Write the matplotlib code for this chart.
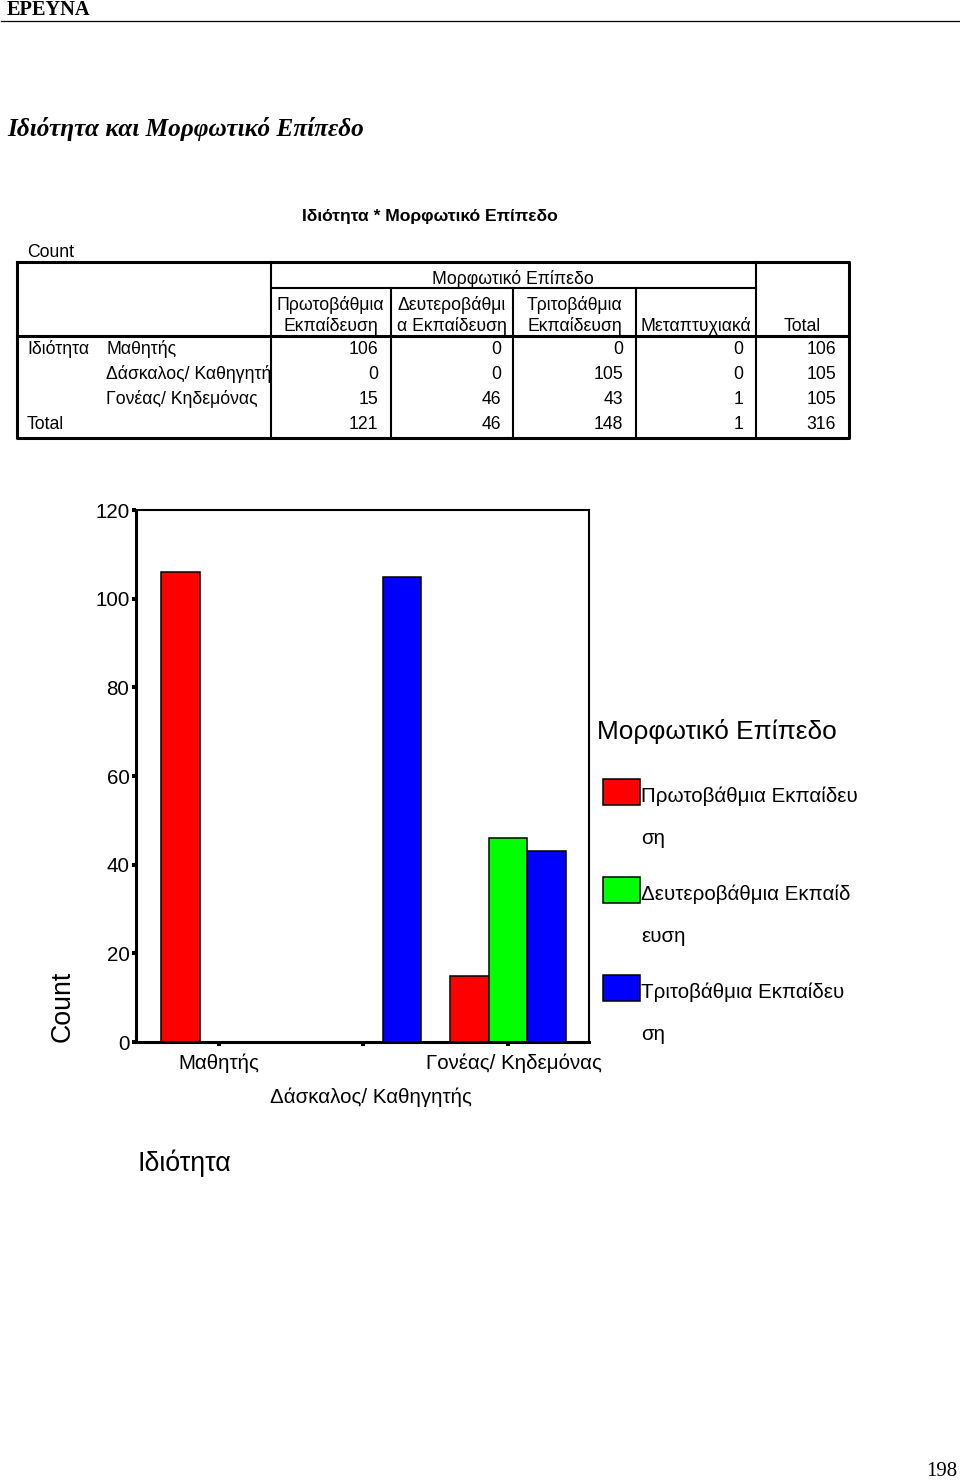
import numpy as np
import matplotlib
matplotlib.use('Agg')
import matplotlib.pyplot as plt
from matplotlib.patches import Rectangle
from matplotlib.transforms import ScaledTranslation, Bbox, TransformedBbox

plt.rcParams['font.family'] = ['Liberation Sans', 'DejaVu Sans']
SERIF = ['Liberation Serif', 'DejaVu Serif']

# crosstab (table)
col_headers = ['Πρωτοβάθμια\nΕκπαίδευση', 'Δευτεροβάθμι\nα Εκπαίδευση',
               'Τριτοβάθμια\nΕκπαίδευση', 'Μεταπτυχιακά', 'Total']
row_headers = ['Μαθητής', 'Δάσκαλος/ Καθηγητής', 'Γονέας/ Κηδεμόνας']
row_values = [[106, 0, 0, 0, 106],
              [0, 0, 105, 0, 105],
              [15, 46, 43, 1, 105]]
total_values = [121, 46, 148, 1, 316]

# bar chart
categories = ['Μαθητής', 'Δάσκαλος/ Καθηγητής', 'Γονέας/ Κηδεμόνας']
primary = [106, 0, 15]
secondary = [0, 0, 46]
tertiary = [0, 105, 43]
series_names = ['Πρωτοβάθμια Εκπαίδευ\nση', 'Δευτεροβάθμια Εκπαίδ\nευση',
                'Τριτοβάθμια Εκπαίδευ\nση']
colors = ['#ff0000', '#00ff00', '#0000ff']

fig = plt.figure(figsize=(9.6, 14.8), dpi=100)

# page layer in pixel coords (y down)
page = fig.add_axes([0, 0, 1, 1])
page.set_xlim(0, 960)
page.set_ylim(1480, 0)
page.axis('off')

page.text(7, 15, 'ΕΡΕΥΝΑ', family=SERIF, weight='bold', fontsize=14.7, va='baseline')
page.plot([1, 960], [20.7, 20.7], color='black', lw=0.9)
page.text(7, 136, 'Ιδιότητα και Μορφωτικό Επίπεδο', family=SERIF, style='italic',
          weight='bold', fontsize=18.2, va='baseline')
page.text(957, 1476.5, '198', family=SERIF, fontsize=15, ha='right', va='baseline')

# ---- table ----
fs = 12.7
page.text(430, 221, 'Ιδιότητα * Μορφωτικό Επίπεδο', weight='bold', fontsize=12.6,
          ha='center', va='baseline')
page.text(27, 257, 'Count', fontsize=fs, va='baseline')

L, R, T, B = 17, 848.5, 262, 437.5
col_x = [270.7, 390.7, 513.3, 635.7, 756, R]
thick, thin = 2.2, 1.5
kw = dict(color='black', solid_capstyle='projecting')
page.plot([L, R, R, L, L], [T, T, B, B, T], lw=thick, **kw)
page.plot([col_x[0], col_x[0]], [T, B], lw=thin, **kw)
page.plot([col_x[4], col_x[4]], [T, B], lw=thin, **kw)
page.plot([col_x[0], col_x[4]], [287.7, 287.7], lw=thin, **kw)
page.plot([L, R], [336, 336], lw=thick, **kw)
for cx in col_x[1:4]:
    page.plot([cx, cx], [287.7, B], lw=thin, **kw)

page.text((col_x[0] + col_x[4]) / 2, 284, 'Μορφωτικό Επίπεδο', fontsize=fs,
          ha='center', va='baseline')
for j, name in enumerate(col_headers):
    cx = (col_x[j] + col_x[j + 1]) / 2
    lines = name.split('\n')
    for k, line in enumerate(lines[::-1]):
        page.text(cx, 330.7 - k * 20.7, line, fontsize=fs, ha='center', va='baseline')

clip = TransformedBbox(Bbox([[L, T], [col_x[0], B]]), page.transData)
row_base = [354, 379, 404]
page.text(27, row_base[0], 'Ιδιότητα', fontsize=fs, va='baseline')
for i, name in enumerate(row_headers):
    t = page.text(106.5, row_base[i], name, fontsize=fs, va='baseline', clip_on=True)
    t.set_clip_box(clip)
    for j, v in enumerate(row_values[i]):
        page.text(col_x[j + 1] - 12.5, row_base[i], str(v), fontsize=fs,
                  ha='right', va='baseline')
page.text(27, 429.3, 'Total', fontsize=fs, va='baseline')
for j, v in enumerate(total_values):
    page.text(col_x[j + 1] - 12.5, 429.3, str(v), fontsize=fs, ha='right', va='baseline')

# ---- bar chart ----
ax = fig.add_axes([136 / 960, 438 / 1480, 453 / 960, 532 / 1480])
x = np.arange(len(categories))
w = 0.266
for i, (vals, c) in enumerate(zip([primary, secondary, tertiary], colors)):
    ax.bar(x + (i - 1) * w, vals, w, color=c, edgecolor='black', linewidth=1.1, zorder=2)

ax.set_xlim(-0.574, 2.561)
ax.set_ylim(0, 120)
ax.set_yticks(range(0, 121, 20))
ax.set_xticks(x)
ax.set_xticklabels(categories)
ax.tick_params(axis='both', direction='out', length=3.2, width=2.9, labelsize=14.8)
ax.tick_params(axis='y', pad=1.5)
ax.tick_params(axis='x', pad=5)
for side in ['left', 'bottom']:
    ax.spines[side].set_linewidth(2.2)
for side in ['top', 'right']:
    ax.spines[side].set_linewidth(1.5)

# staggered second label, slight right shift as in the original
shifts = [(0, 0), (0.07, -0.34), (0.06, 0)]
for lbl, (dx, dy) in zip(ax.get_xticklabels(), shifts):
    lbl.set_transform(lbl.get_transform() + ScaledTranslation(dx, dy, fig.dpi_scale_trans))

ax.set_ylabel('Count', fontsize=19.3, loc='bottom')
ax.yaxis.set_label_coords(-0.134, 0)
ax.set_xlabel('Ιδιότητα', fontsize=19.3, loc='left')
ax.xaxis.set_label_coords(0.004, -0.203)

# legend (drawn on the page layer)
page.text(597, 739, 'Μορφωτικό Επίπεδο', fontsize=18.9, va='baseline')
for i, (name, c) in enumerate(zip(series_names, colors)):
    top = 779 + i * 98
    page.add_patch(Rectangle((603, top), 36.5, 26, facecolor=c, edgecolor='black', lw=1.1))
    l1, l2 = name.split('\n')
    page.text(641, top + 22.5, l1, fontsize=14.8, va='baseline')
    page.text(641, top + 64.5, l2, fontsize=14.8, va='baseline')

fig.savefig('out.png', dpi=100)
